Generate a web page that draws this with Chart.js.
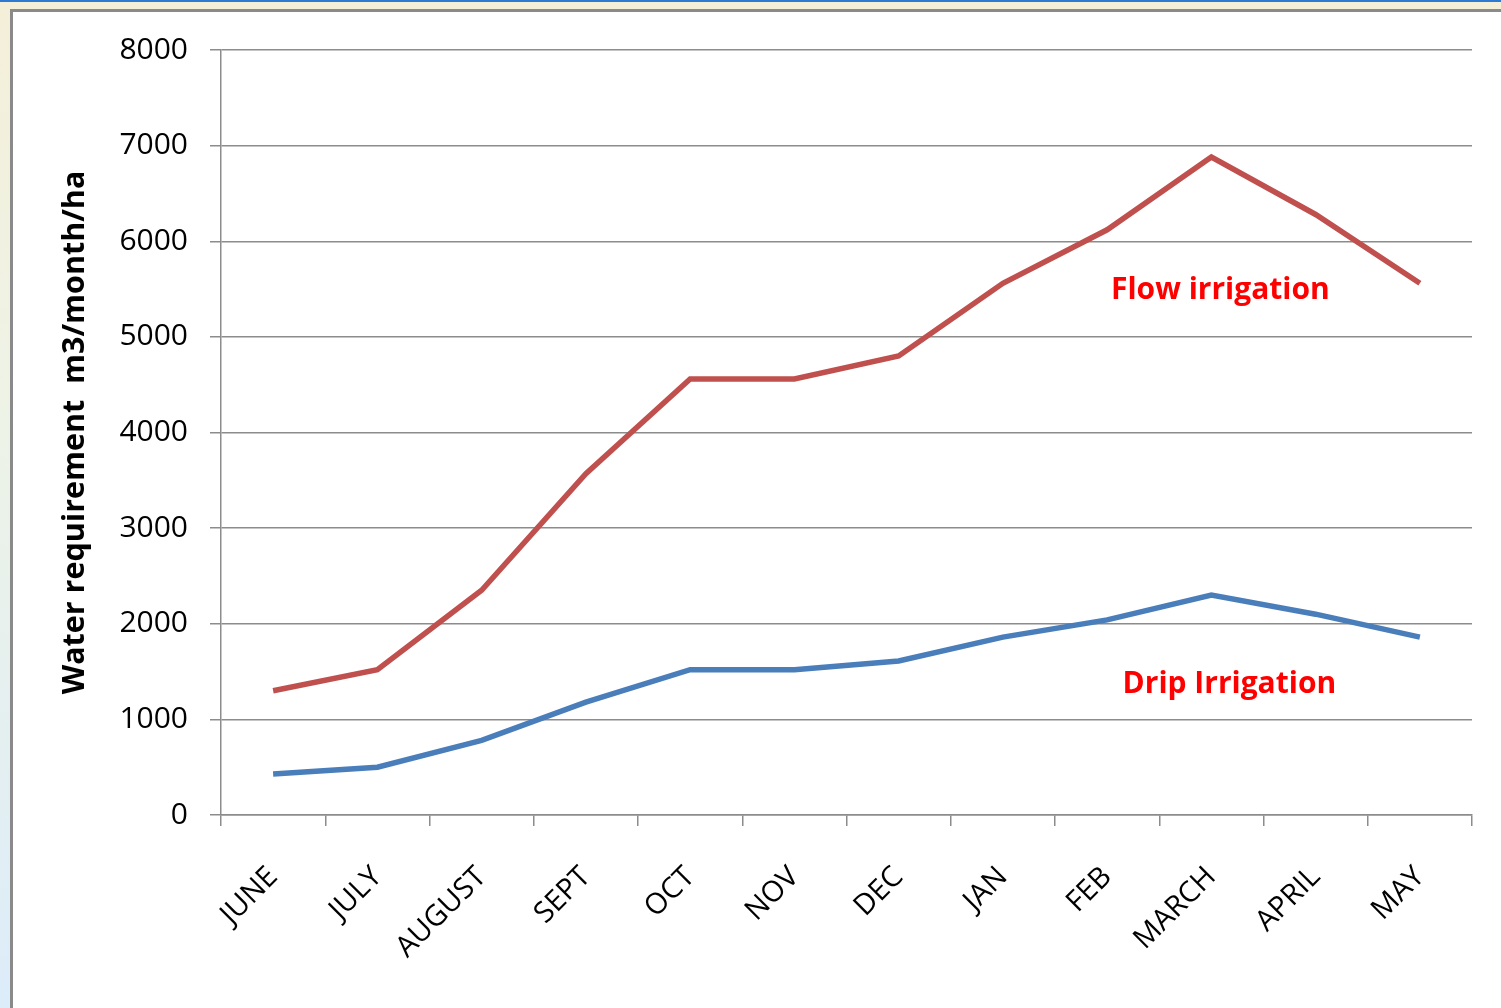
<!DOCTYPE html>
<html>
<head>
<meta charset="utf-8">
<script src="https://cdn.jsdelivr.net/npm/chart.js@4"></script>
<style>
  html, body { margin: 0; padding: 0; width: 1501px; height: 1008px; overflow: hidden; }
  body { background: linear-gradient(to bottom, #f4efd9 0%, #eef3e6 40%, #dcecf9 100%); position: relative; }
  #topbar { position: absolute; left: 0; top: 0; width: 1501px; height: 2px; background: #2f7ad0; }
  #panel { position: absolute; left: 10px; top: 9px; width: 1500px; height: 1010px; background: #fff;
           border-left: 3px solid #8a8a8a; border-top: 3px solid #8a8a8a; }
  #chart { position: absolute; left: 0; top: 0; }
</style>
</head>
<body>
<div id="topbar"></div>
<div id="panel"></div>
<canvas id="chart" width="1501" height="1008"></canvas>
<script>
const months = ['JUNE', 'JULY', 'AUGUST', 'SEPT', 'OCT', 'NOV', 'DEC', 'JAN', 'FEB', 'MARCH', 'APRIL', 'MAY'];
const flowIrrigation = [1300, 1520, 2350, 3570, 4560, 4560, 4800, 5560, 6120, 6880, 6280, 5560];
const dripIrrigation = [430, 500, 780, 1180, 1520, 1520, 1610, 1860, 2040, 2300, 2100, 1860];
const yTicks = [0, 1000, 2000, 3000, 4000, 5000, 6000, 7000, 8000];

const FONT = '"Open Sans", "Noto Sans", sans-serif';
const GRID = '#8c8c8c';

// series captions drawn next to the lines
const seriesLabels = {
  id: 'seriesLabels',
  afterDatasetsDraw(chart) {
    const { ctx, scales } = chart;
    ctx.save();
    ctx.fillStyle = '#ff0000';
    ctx.font = 'bold 30px ' + FONT;
    ctx.textAlign = 'center';
    ctx.textBaseline = 'middle';
    const xm = scales.x.getPixelForValue(9);
    ctx.fillText('Flow irrigation', xm + 9, scales.y.getPixelForValue(5490));
    ctx.fillText('Drip Irrigation', xm + 18, scales.y.getPixelForValue(1360));
    ctx.restore();
  }
};

new Chart(document.getElementById('chart'), {
  type: 'line',
  data: {
    labels: months,
    datasets: [
      {
        label: 'Flow irrigation',
        data: flowIrrigation,
        borderColor: '#c0504d',
        borderWidth: 5.5,
        pointRadius: 0,
        tension: 0,
        fill: false
      },
      {
        label: 'Drip Irrigation',
        data: dripIrrigation,
        borderColor: '#4a7ebb',
        borderWidth: 5.5,
        pointRadius: 0,
        tension: 0,
        fill: false
      }
    ]
  },
  options: {
    responsive: false,
    animation: false,
    layout: { padding: { left: 0, top: 50, right: 29, bottom: 0 } },
    plugins: { legend: { display: false }, tooltip: { enabled: false } },
    scales: {
      x: {
        offset: true,
        grid: { offset: true, drawOnChartArea: false, color: GRID, lineWidth: 1.5, tickLength: 11 },
        border: { color: GRID, width: 1.5 },
        ticks: {
          color: '#000',
          font: { family: FONT, size: 29 },
          minRotation: 45,
          maxRotation: 45,
          padding: 34
        },
        afterFit(scale) { scale.height = 193; }
      },
      y: {
        min: 0,
        max: 8000,
        afterBuildTicks(scale) { scale.ticks = yTicks.map(v => ({ value: v })); },
        grid: { color: GRID, lineWidth: 1.5, tickLength: 11 },
        border: { color: GRID, width: 1.5 },
        ticks: {
          color: '#000',
          font: { family: FONT, size: 30 },
          padding: 22,
          callback: v => String(v)
        },
        title: {
          display: true,
          text: 'Water requirement  m3/month/ha',
          color: '#000',
          font: { family: FONT, size: 30.5, weight: 'bold' },
          padding: { top: 57, bottom: 0 }
        },
        afterFit(scale) { scale.width = 221; }
      }
    }
  },
  plugins: [seriesLabels]
});
</script>
</body>
</html>
